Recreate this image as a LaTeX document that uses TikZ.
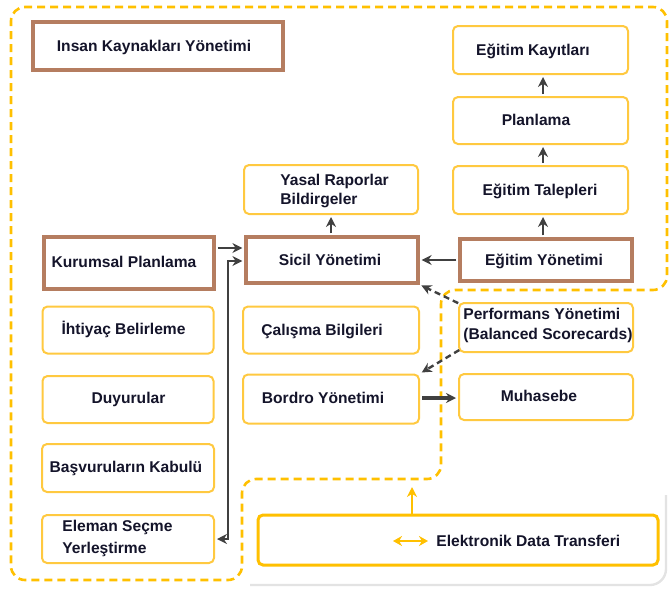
\documentclass[tikz,border=0pt]{standalone}
\usepackage{fontspec}
\setmainfont{Liberation Sans}
\usetikzlibrary{arrows.meta}
\definecolor{ybord}{HTML}{FFC940}
\definecolor{yline}{HTML}{FFC000}
\definecolor{brownb}{HTML}{B57D60}
\definecolor{ink}{HTML}{14142A}
\definecolor{arrowc}{HTML}{404040}

\begin{document}
\begin{tikzpicture}[x=0.5pt,y=-0.5pt,
  lbl/.style={font=\bfseries\fontsize{7.8}{9.5}\selectfont, text=ink, inner sep=0pt,
              text height=5.6pt, text depth=0pt},
  mlbl/.style={font=\bfseries\fontsize{7.8}{#1}\selectfont, text=ink, inner sep=0pt,
               align=left, anchor=west},
  sz/.style 2 args={minimum width=#1, minimum height=#2, inner sep=0pt},
  ybox/.style={draw=ybord, line width=1pt, rounded corners=2.5pt, fill=white},
  bbox/.style={draw=brownb, line width=1.6pt, fill=white},
  darr/.style={draw=arrowc, line width=1.2pt, -{Stealth[length=5pt,width=5pt]},
               shorten <=1pt, shorten >=1pt},
  dasharr/.style={darr, dash pattern=on 3pt off 2pt},
  yarr/.style={draw=yline, line width=1.4pt},
  outline/.style={draw=yline, line width=1.3pt, dash pattern=on 4pt off 2.5pt,
                  rounded corners=7pt}
]
\useasboundingbox (0,0) rectangle (669,589);

% soft frame under the transfer area
\draw[gray!22, line width=1.2pt, rounded corners=8pt] (250,585) -- (666,585) -- (666,495);

% dashed boundary of the HR system
\draw[outline] (11,300) -- (11,7) -- (667,7) -- (667,290) -- (441,290) -- (441,479)
  -- (242,479) -- (242,580) -- (11,580) -- cycle;

% boxes
\node[bbox, sz={125pt}{24pt}]   (ik)  at (158,46)    {};
\node[ybox, sz={87.5pt}{24pt}]  (ek)  at (540.5,50)  {};
\node[ybox, sz={87.5pt}{23.5pt}] (pl) at (540.5,120.5) {};
\node[ybox, sz={87.5pt}{24pt}]  (et)  at (540.5,190) {};
\node[bbox, sz={86pt}{21pt}]    (ey)  at (546,260)   {};
\node[ybox, sz={87pt}{24.5pt}]  (yr)  at (331,189.5) {};
\node[bbox, sz={86pt}{23pt}]    (sy)  at (332,260)   {};
\node[bbox, sz={85pt}{26pt}]    (kp)  at (129,263)   {};
\node[ybox, sz={85.5pt}{23.5pt}] (ib) at (128,330)   {};
\node[ybox, sz={85.5pt}{23.5pt}] (du) at (128,399.5) {};
\node[ybox, sz={88pt}{23.5pt}]  (cb)  at (331,330)   {};
\node[ybox, sz={88pt}{24.5pt}]  (by)  at (331,399)   {};
\node[ybox, sz={87pt}{24.5pt}]  (pf)  at (546,327.5) {};
\node[ybox, sz={87pt}{23pt}]    (mu)  at (546,397)   {};
\node[ybox, sz={86pt}{24pt}]    (bk)  at (128,468)   {};
\node[ybox, sz={86pt}{24pt}]    (es)  at (128,539)   {};
\node[ybox, draw=yline, line width=1.5pt, sz={200pt}{25pt}] (edt) at (458,540) {};

% labels
\node[lbl] (ik-t) at (154,46)   {Insan Kaynakları Yönetimi};
\node[lbl] (ek-t) at (533,50)   {Eğitim Kayıtları};
\node[lbl] (pl-t) at (536,120)  {Planlama};
\node[lbl] (et-t) at (540,190)  {Eğitim Talepleri};
\node[lbl] (ey-t) at (544,260)  {Eğitim Yönetimi};
\node[mlbl=9.5pt] (yr-t) at (280,190.5) {Yasal Raporlar\\Bildirgeler};
\node[lbl] (sy-t) at (330,260)  {Sicil Yönetimi};
\node[lbl] (kp-t) at (124,262)  {Kurumsal Planlama};
\node[lbl] (ib-t) at (123.5,329) {İhtiyaç Belirleme};
\node[lbl] (cb-t) at (322,330)  {Çalışma Bilgileri};
\node[lbl] (du-t) at (128.5,398) {Duyurular};
\node[lbl] (by-t) at (323,398)  {Bordro Yönetimi};
\node[mlbl=10pt] (pf-t) at (463,325) {Performans Yönetimi\\(Balanced Scorecards)};
\node[lbl] (mu-t) at (539,396)  {Muhasebe};
\node[lbl] (bk-t) at (126,467)  {Başvuruların Kabulü};
\node[mlbl=11pt] (es-t) at (62,538) {Eleman Seçme\\Yerleştirme};
\node[lbl, anchor=west] (edt-t) at (436,541) {Elektronik Data Transferi};

% training chain
\draw[darr] ([xshift=-1.5pt]ey.north) -- ([xshift=-1.5pt]ey.north |- et.south);
\draw[darr] ([xshift=1.25pt]et.north) -- ([xshift=1.25pt]pl.south);
\draw[darr] ([xshift=1.25pt]pl.north) -- ([xshift=1.25pt]ek.south);

% flows into and out of the registry
\draw[darr] (ey.west) -- (ey.west -| sy.east);
\draw[darr] ([xshift=-0.5pt]sy.north) -- ([xshift=-0.5pt]sy.north |- yr.south);
\draw[darr] ([yshift=7.5pt]kp.east) -- ([yshift=7.5pt]kp.east -| sy.west);
\coordinate (bend) at (228,261);
\draw[darr, {Stealth[length=5pt,width=5pt]}-{Stealth[length=5pt,width=5pt]}]
  (es.east) -| (bend) -- (bend -| sy.west);

% performance links
\draw[dasharr] ([xshift=1pt,yshift=-1pt]pf.north west) -- (sy.south east);
\draw[dasharr] ([xshift=1.5pt,yshift=2pt]pf.south west) -- (by.north east);

% payroll to accounting
\draw[darr, line width=1.7pt] ([yshift=0.5pt]by.east) -- ([yshift=0.5pt]by.east -| mu.west);

% electronic data transfer
\coordinate (edtup) at (412,487);
\draw[yarr, -{Stealth[length=5pt,width=5pt]}] (edt.north -| edtup) -- (edtup);
\coordinate (da1) at (393,541);
\coordinate (da2) at (428,541);
\draw[yarr, {Stealth[length=4.5pt,width=5pt]}-{Stealth[length=4.5pt,width=5pt]}] (da1) -- (da2);
\end{tikzpicture}
\end{document}
